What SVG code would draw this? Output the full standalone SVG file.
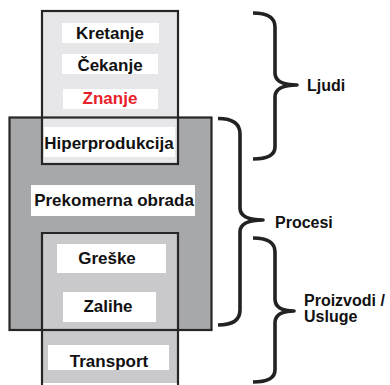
<svg xmlns="http://www.w3.org/2000/svg" width="390" height="385" viewBox="0 0 390 385">
<style>
.box{stroke:#262626;stroke-width:2.2;fill:none}
.lbl{fill:#ffffff}
.t{font-family:"Liberation Sans",Arial,sans-serif;font-weight:bold;font-size:17px;fill:#111;text-anchor:middle}
.r{font-family:"Liberation Sans",Arial,sans-serif;font-weight:bold;font-size:16px;fill:#111}
.brace{fill:none;stroke:#222;stroke-width:3.6;stroke-linecap:butt;stroke-linejoin:round}
</style>
<rect width="390" height="385" fill="#ffffff"/>
<g id="fills">
<rect x="9.5" y="117.5" width="202" height="212.5" fill="#a7a8aa"/>
<rect x="42" y="11" width="136" height="153" fill="#e7e7e9"/>
<rect x="42" y="233" width="136" height="150" fill="#c9c9cb"/>
</g>
<g id="borders">
<rect class="box" x="9.5" y="117.5" width="202" height="212.5"/>
<rect class="box" x="42" y="11" width="136" height="153"/>
<path class="box" d="M42,385 L42,233 L178,233 L178,385"/>
</g>
<g id="node-kretanje"><rect class="lbl" x="62" y="23" width="97" height="20"/><text class="t" x="110" y="39">Kretanje</text></g>
<g id="node-cekanje"><rect class="lbl" x="62" y="54" width="96" height="20"/><text class="t" x="110" y="71">Čekanje</text></g>
<g id="node-znanje"><rect class="lbl" x="63" y="89" width="95" height="20"/><text class="t" x="110" y="104" fill="#e8202a" style="fill:#e8202a">Znanje</text></g>
<g id="node-hiperprodukcija"><rect class="lbl" x="44" y="127" width="131" height="30"/><text class="t" x="109" y="149">Hiperprodukcija</text></g>
<g id="node-prekomerna"><rect class="lbl" x="31" y="185" width="164" height="31"/><text class="t" x="114" y="206">Prekomerna obrada</text></g>
<g id="node-greske"><rect class="lbl" x="57" y="244" width="109" height="29"/><text class="t" x="107" y="264">Greške</text></g>
<g id="node-zalihe"><rect class="lbl" x="63" y="292" width="93" height="30"/><text class="t" x="108" y="312">Zalihe</text></g>
<g id="node-transport"><rect class="lbl" x="48" y="345" width="121" height="25"/><text class="t" x="109" y="367">Transport</text></g>
<g id="connectors">
<path class="brace" d="M253,13 C267,13 275,17 275,27 L275,73 C275,81 282,85 297,85 C282,85 275,89 275,97 L275,147 C275,155 267,159 253,159"/>
<path class="brace" d="M218,118.5 C232,118.5 240,123 240,134 L240,208 C240,216 247,220 263,220 C247,220 240,224 240,232 L240,310 C240,320 232,325 218,325"/>
<path class="brace" d="M253,238 C267,238 275,242 275,252 L275,299 C275,307 281,311 294,311 C281,311 275,315 275,323 L275,370 C275,378 267,382 253,382"/>
</g>
<g id="node-ljudi"><text class="r" x="307" y="91">Ljudi</text></g>
<g id="node-procesi"><text class="r" x="275" y="228">Procesi</text></g>
<g id="node-proizvodi"><text class="r" x="304" y="306">Proizvodi /</text><text class="r" x="304" y="322">Usluge</text></g>
</svg>
